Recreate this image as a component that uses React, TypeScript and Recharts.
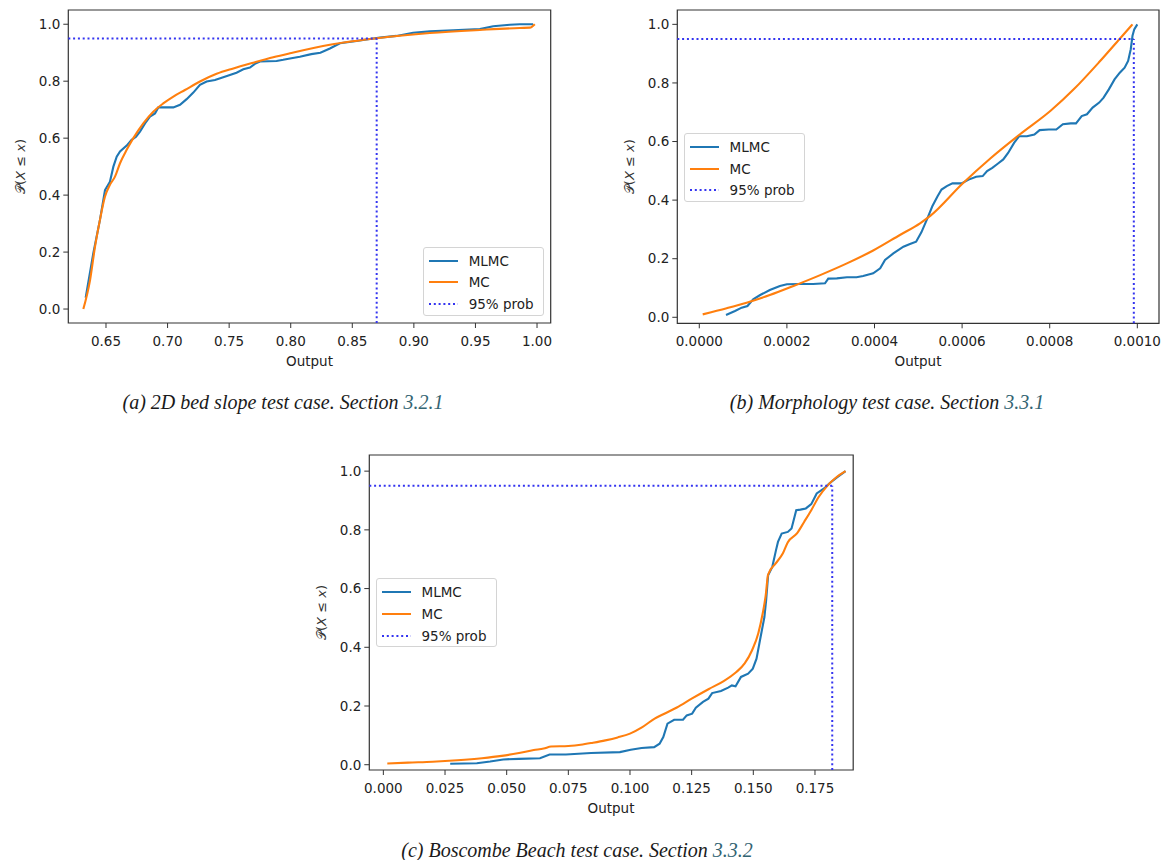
import React from "react";
import { LineChart, Line, XAxis, YAxis, ReferenceLine, ReferenceArea, Legend } from "recharts";

type Pt = [number, number];

// (a) 2D bed slope test case
const bedSlopeMLMC: Pt[] = [
  [0.6335, 0.04], [0.6397, 0.196], [0.6451, 0.313], [0.6492, 0.418], [0.6532, 0.447],
  [0.656, 0.5], [0.6587, 0.535], [0.6614, 0.553], [0.6668, 0.574], [0.6708, 0.594],
  [0.6744, 0.605], [0.6776, 0.623], [0.6817, 0.652], [0.6857, 0.676], [0.6898, 0.687],
  [0.6925, 0.708], [0.6992, 0.708], [0.7047, 0.708], [0.7101, 0.717], [0.7155, 0.737],
  [0.7209, 0.76], [0.7263, 0.787], [0.7317, 0.799], [0.7385, 0.804], [0.7452, 0.814],
  [0.7506, 0.822], [0.756, 0.83], [0.7615, 0.842], [0.7669, 0.848], [0.7709, 0.861],
  [0.775, 0.869], [0.7885, 0.871], [0.7939, 0.875], [0.7994, 0.88], [0.8074, 0.886],
  [0.8167, 0.895], [0.8241, 0.9], [0.8318, 0.915], [0.84, 0.933], [0.8535, 0.941],
  [0.8643, 0.948], [0.8724, 0.953], [0.8859, 0.959], [0.8994, 0.97], [0.913, 0.975],
  [0.9319, 0.979], [0.9536, 0.983], [0.9644, 0.993], [0.9779, 0.998], [0.986, 1.0],
  [0.9968, 1.0],
];
const bedSlopeMC: Pt[] = [
  [0.6316, 0.0], [0.637, 0.1], [0.6411, 0.219], [0.6451, 0.313], [0.6492, 0.395],
  [0.6532, 0.436], [0.6573, 0.465], [0.6614, 0.512], [0.6668, 0.559], [0.6722, 0.6],
  [0.6803, 0.652], [0.6884, 0.693], [0.6965, 0.722], [0.7047, 0.746], [0.7141, 0.769],
  [0.7263, 0.799], [0.7398, 0.826], [0.7534, 0.845], [0.7696, 0.865], [0.7858, 0.884],
  [0.7994, 0.898], [0.8318, 0.928], [0.85, 0.94], [0.87, 0.951], [0.913, 0.969],
  [0.9536, 0.98], [0.986, 0.987], [0.9942, 0.988], [0.9982, 1.0],
];
const bedSlopeTicks = [0.65, 0.7, 0.75, 0.8, 0.85, 0.9, 0.95, 1.0];
const bedSlopeQ95 = 0.8698;

// (b) Morphology test case
const morphMLMC: Pt[] = [
  [0.000061, 0.008], [0.0000815, 0.0215], [0.0000968, 0.033], [0.00011, 0.0385], [0.000123, 0.061],
  [0.000139, 0.076], [0.000161, 0.093], [0.000184, 0.107], [0.0002, 0.1126], [0.00023, 0.1136],
  [0.00026, 0.1136], [0.000287, 0.116], [0.0002945, 0.132], [0.000314, 0.133], [0.000337, 0.1365],
  [0.000359, 0.1365], [0.000374, 0.141], [0.000397, 0.15], [0.000413, 0.167], [0.000424, 0.1955],
  [0.000443, 0.218], [0.000466, 0.241], [0.000481, 0.25], [0.000495, 0.258], [0.000507, 0.29],
  [0.00052, 0.335], [0.000532, 0.379], [0.000544, 0.413], [0.000553, 0.436], [0.000565, 0.448],
  [0.000578, 0.457], [0.0005985, 0.457], [0.000615, 0.47], [0.000632, 0.48], [0.000647, 0.482],
  [0.000657, 0.499], [0.000669, 0.51], [0.000682, 0.525], [0.000694, 0.539], [0.000705, 0.561],
  [0.000719, 0.596], [0.00073, 0.618], [0.000748, 0.618], [0.000765, 0.624], [0.000777, 0.639],
  [0.000798, 0.641], [0.000815, 0.641], [0.00083, 0.659], [0.000848, 0.662], [0.00086, 0.662],
  [0.000873, 0.687], [0.000885, 0.693], [0.000898, 0.716], [0.000913, 0.733], [0.000923, 0.75],
  [0.000935, 0.778], [0.000948, 0.812], [0.00096, 0.835], [0.000971, 0.852], [0.000979, 0.875],
  [0.000985, 0.915], [0.000989, 0.961], [0.000993, 0.983], [0.001, 1.0],
];
const morphMC: Pt[] = [
  [0.0000078, 0.01], [0.0000626, 0.031], [0.000108, 0.05], [0.000161, 0.076], [0.000215, 0.107],
  [0.000276, 0.144], [0.000337, 0.184], [0.000397, 0.228], [0.000458, 0.281], [0.000504, 0.321],
  [0.000528, 0.347], [0.0006, 0.455], [0.000665, 0.543], [0.0007315, 0.624], [0.000802, 0.705],
  [0.000856, 0.78], [0.000914, 0.873], [0.00096, 0.951], [0.000989, 1.0],
];
const morphTicks = [0, 0.0002, 0.0004, 0.0006, 0.0008, 0.001];
const morphQ95 = 0.000992;

// (c) Boscombe Beach test case
const beachMLMC: Pt[] = [
  [0.0271, 0.0034], [0.0379, 0.005], [0.0433, 0.011], [0.0486, 0.018], [0.0549, 0.02],
  [0.0635, 0.022], [0.0674, 0.035], [0.074, 0.035], [0.0842, 0.04], [0.0959, 0.043],
  [0.1003, 0.051], [0.1047, 0.057], [0.1098, 0.06], [0.112, 0.0716], [0.1135, 0.094],
  [0.1152, 0.14], [0.1179, 0.153], [0.1215, 0.153], [0.123, 0.168], [0.1252, 0.174],
  [0.1267, 0.194], [0.1296, 0.214], [0.1318, 0.225], [0.1333, 0.244], [0.1369, 0.251],
  [0.1398, 0.2625], [0.1413, 0.27], [0.1428, 0.267], [0.145, 0.299], [0.1479, 0.31],
  [0.1498, 0.327], [0.1513, 0.361], [0.1527, 0.424], [0.1545, 0.503], [0.1552, 0.56],
  [0.156, 0.645], [0.1577, 0.674], [0.1592, 0.731], [0.16, 0.759], [0.1615, 0.7875],
  [0.164, 0.793], [0.1655, 0.805], [0.1674, 0.867], [0.1691, 0.869], [0.1713, 0.873],
  [0.1735, 0.8875], [0.1757, 0.924], [0.1787, 0.941], [0.1808, 0.958], [0.1838, 0.978],
  [0.1874, 1.0],
];
const beachMC: Pt[] = [
  [0.0016, 0.004], [0.01, 0.007], [0.02, 0.01], [0.03, 0.015], [0.04, 0.022],
  [0.048, 0.03], [0.055, 0.04], [0.061, 0.05], [0.065, 0.055], [0.068, 0.062],
  [0.075, 0.064], [0.08, 0.068], [0.085, 0.075], [0.09, 0.083], [0.095, 0.093],
  [0.1, 0.106], [0.105, 0.128], [0.11, 0.157], [0.1135, 0.172], [0.119, 0.195],
  [0.125, 0.225], [0.132, 0.258], [0.138, 0.285], [0.143, 0.315], [0.1465, 0.345],
  [0.1495, 0.39], [0.152, 0.447], [0.1538, 0.515], [0.155, 0.575], [0.156, 0.648],
  [0.159, 0.685], [0.162, 0.72], [0.164, 0.758], [0.1677, 0.788], [0.1706, 0.827],
  [0.1735, 0.867], [0.1765, 0.912], [0.18, 0.95], [0.1838, 0.98], [0.1874, 1.0],
];
const beachTicks = [0, 0.025, 0.05, 0.075, 0.1, 0.125, 0.15, 0.175];
const beachQ95 = 0.182;

const probTicks = [0, 0.2, 0.4, 0.6, 0.8, 1.0];
const probLevel = 0.95;
const seriesNames = ["MLMC", "MC", "95% prob"];
const seriesColors = ["#1f77b4", "#ff7f0e", "#3434f0"];

const FONT = "DejaVu Sans";
const toRows = (pts: Pt[]) => pts.map(([x, y]) => ({ x, y }));

function YLabel({ px, py }: any) {
  return (
    <text
      x={px}
      y={py}
      transform={`rotate(-90 ${px} ${py})`}
      textAnchor="middle"
      dominantBaseline="central"
      fontFamily={FONT}
      fontSize={13}
      fill="#333"
    >
      <tspan>𝒫(</tspan>
      <tspan fontStyle="italic">X</tspan>
      <tspan> ≤ </tspan>
      <tspan fontStyle="italic">x</tspan>
      <tspan>)</tspan>
    </text>
  );
}

function XLabel({ px, py }: any) {
  return (
    <text x={px} y={py} textAnchor="middle" dominantBaseline="central" fontFamily={FONT} fontSize={13.5} fill="#222">
      Output
    </text>
  );
}

function LegendBox() {
  return (
    <div
      style={{
        position: "relative",
        width: 121,
        height: 69,
        boxSizing: "border-box",
        border: "1px solid #d4d4d4",
        borderRadius: 3,
        background: "rgba(255,255,255,0.85)",
        fontFamily: FONT,
        fontSize: 13.5,
        color: "#222",
      }}
    >
      {seriesNames.map((name, i) => (
        <div
          key={name}
          style={{ position: "absolute", left: 5, top: 3 + i * 21.7, height: 20, display: "flex", alignItems: "center" }}
        >
          <svg width={29} height={4} style={{ display: "block" }}>
            <line
              x1={0}
              y1={2}
              x2={29}
              y2={2}
              stroke={seriesColors[i]}
              strokeWidth={2}
              strokeDasharray={i === 2 ? "2 2.8" : undefined}
            />
          </svg>
          <span style={{ marginLeft: 11, lineHeight: "20px" }}>{name}</span>
        </div>
      ))}
    </div>
  );
}

function Panel(props: any) {
  const { left, top, width, height, margin, xDomain, yDomain, xTicks, digits, mlmc, mc, q95, legend, yLab, xLab } = props;
  return (
    <div style={{ position: "absolute", left, top, width, height }}>
      <LineChart width={width} height={height} margin={margin}>
        <XAxis
          dataKey="x"
          type="number"
          domain={xDomain}
          ticks={xTicks}
          allowDataOverflow
          axisLine={false}
          tickSize={5}
          tickMargin={8}
          tickLine={{ stroke: "#333" }}
          tick={{ fill: "#222", fontSize: 13.5, fontFamily: FONT }}
          tickFormatter={(v: number) => v.toFixed(digits)}
          height={30}
          label={<XLabel px={xLab[0]} py={xLab[1]} />}
        />
        <YAxis
          type="number"
          domain={yDomain}
          ticks={probTicks}
          allowDataOverflow
          axisLine={false}
          tickSize={5}
          tickMargin={3}
          tickLine={{ stroke: "#333" }}
          tick={{ fill: "#222", fontSize: 13.5, fontFamily: FONT }}
          tickFormatter={(v: number) => v.toFixed(1)}
          width={60}
          label={<YLabel px={yLab[0]} py={yLab[1]} />}
        />
        <ReferenceArea
          x1={xDomain[0]}
          x2={xDomain[1]}
          y1={yDomain[0]}
          y2={yDomain[1]}
          fill="none"
          stroke="#333"
          strokeWidth={1.2}
          ifOverflow="visible"
        />
        <Line
          data={toRows(mlmc)}
          dataKey="y"
          name={seriesNames[0]}
          type="linear"
          stroke={seriesColors[0]}
          strokeWidth={2.1}
          dot={false}
          isAnimationActive={false}
        />
        <Line
          data={toRows(mc)}
          dataKey="y"
          name={seriesNames[1]}
          type="monotone"
          stroke={seriesColors[1]}
          strokeWidth={2.1}
          dot={false}
          isAnimationActive={false}
        />
        <ReferenceLine
          segment={[{ x: xDomain[0], y: probLevel }, { x: q95, y: probLevel }]}
          stroke={seriesColors[2]}
          strokeWidth={2}
          strokeDasharray="2 2.8"
          ifOverflow="visible"
        />
        <ReferenceLine
          segment={[{ x: q95, y: yDomain[0] }, { x: q95, y: probLevel }]}
          stroke={seriesColors[2]}
          strokeWidth={2}
          strokeDasharray="2 2.8"
          ifOverflow="visible"
        />
        <Legend
          content={<LegendBox />}
          layout="vertical"
          align="center"
          verticalAlign="middle"
          wrapperStyle={{ left: legend[0], top: legend[1], width: "auto", height: "auto" }}
        />
      </LineChart>
    </div>
  );
}

function Caption({ cx, cy, text, section }: any) {
  return (
    <div
      style={{
        position: "absolute",
        left: cx,
        top: cy,
        transform: "translate(-50%, -50%)",
        whiteSpace: "nowrap",
        fontFamily: "Liberation Serif",
        fontStyle: "italic",
        fontSize: 20,
        color: "#1a1a1a",
      }}
    >
      {text} <span style={{ color: "#336472" }}>{section}</span>
    </div>
  );
}

export default function App() {
  return (
    <div style={{ position: "absolute", left: 0, top: 0, width: 1161, height: 860, background: "#fff" }}>
      <Panel
        left={0}
        top={0}
        width={560}
        height={400}
        margin={{ top: 10, right: 9.3, left: 8.3, bottom: 47 }}
        xDomain={[0.6194, 1.0111]}
        yDomain={[-0.049, 1.05]}
        xTicks={bedSlopeTicks}
        digits={2}
        mlmc={bedSlopeMLMC}
        mc={bedSlopeMC}
        q95={bedSlopeQ95}
        legend={[422.7, 246.7]}
        yLab={[20.3, 166.5]}
        xLab={[309.5, 361]}
      />
      <Panel
        left={600}
        top={0}
        width={561}
        height={400}
        margin={{ top: 10, right: 2, left: 17.3, bottom: 46.7 }}
        xDomain={[-0.0000502, 0.0010495]}
        yDomain={[-0.0205, 1.049]}
        xTicks={morphTicks}
        digits={4}
        mlmc={morphMLMC}
        mc={morphMC}
        q95={morphQ95}
        legend={[83.6, 133]}
        yLab={[29.3, 166.7]}
        xLab={[318, 361]}
      />
      <Panel
        left={290}
        top={440}
        width={580}
        height={380}
        margin={{ top: 15, right: 16.8, left: 19.3, bottom: 20 }}
        xDomain={[-0.0057, 0.1905]}
        yDomain={[-0.018, 1.055]}
        xTicks={beachTicks}
        digits={3}
        mlmc={beachMLMC}
        mc={beachMC}
        q95={beachQ95}
        legend={[85.5, 138.3]}
        yLab={[31.3, 172.5]}
        xLab={[321, 368.3]}
      />
      <Caption cx={283} cy={402} text="(a) 2D bed slope test case. Section" section="3.2.1" />
      <Caption cx={887} cy={402} text="(b) Morphology test case. Section" section="3.3.1" />
      <Caption cx={577} cy={850} text="(c) Boscombe Beach test case. Section" section="3.3.2" />
    </div>
  );
}
